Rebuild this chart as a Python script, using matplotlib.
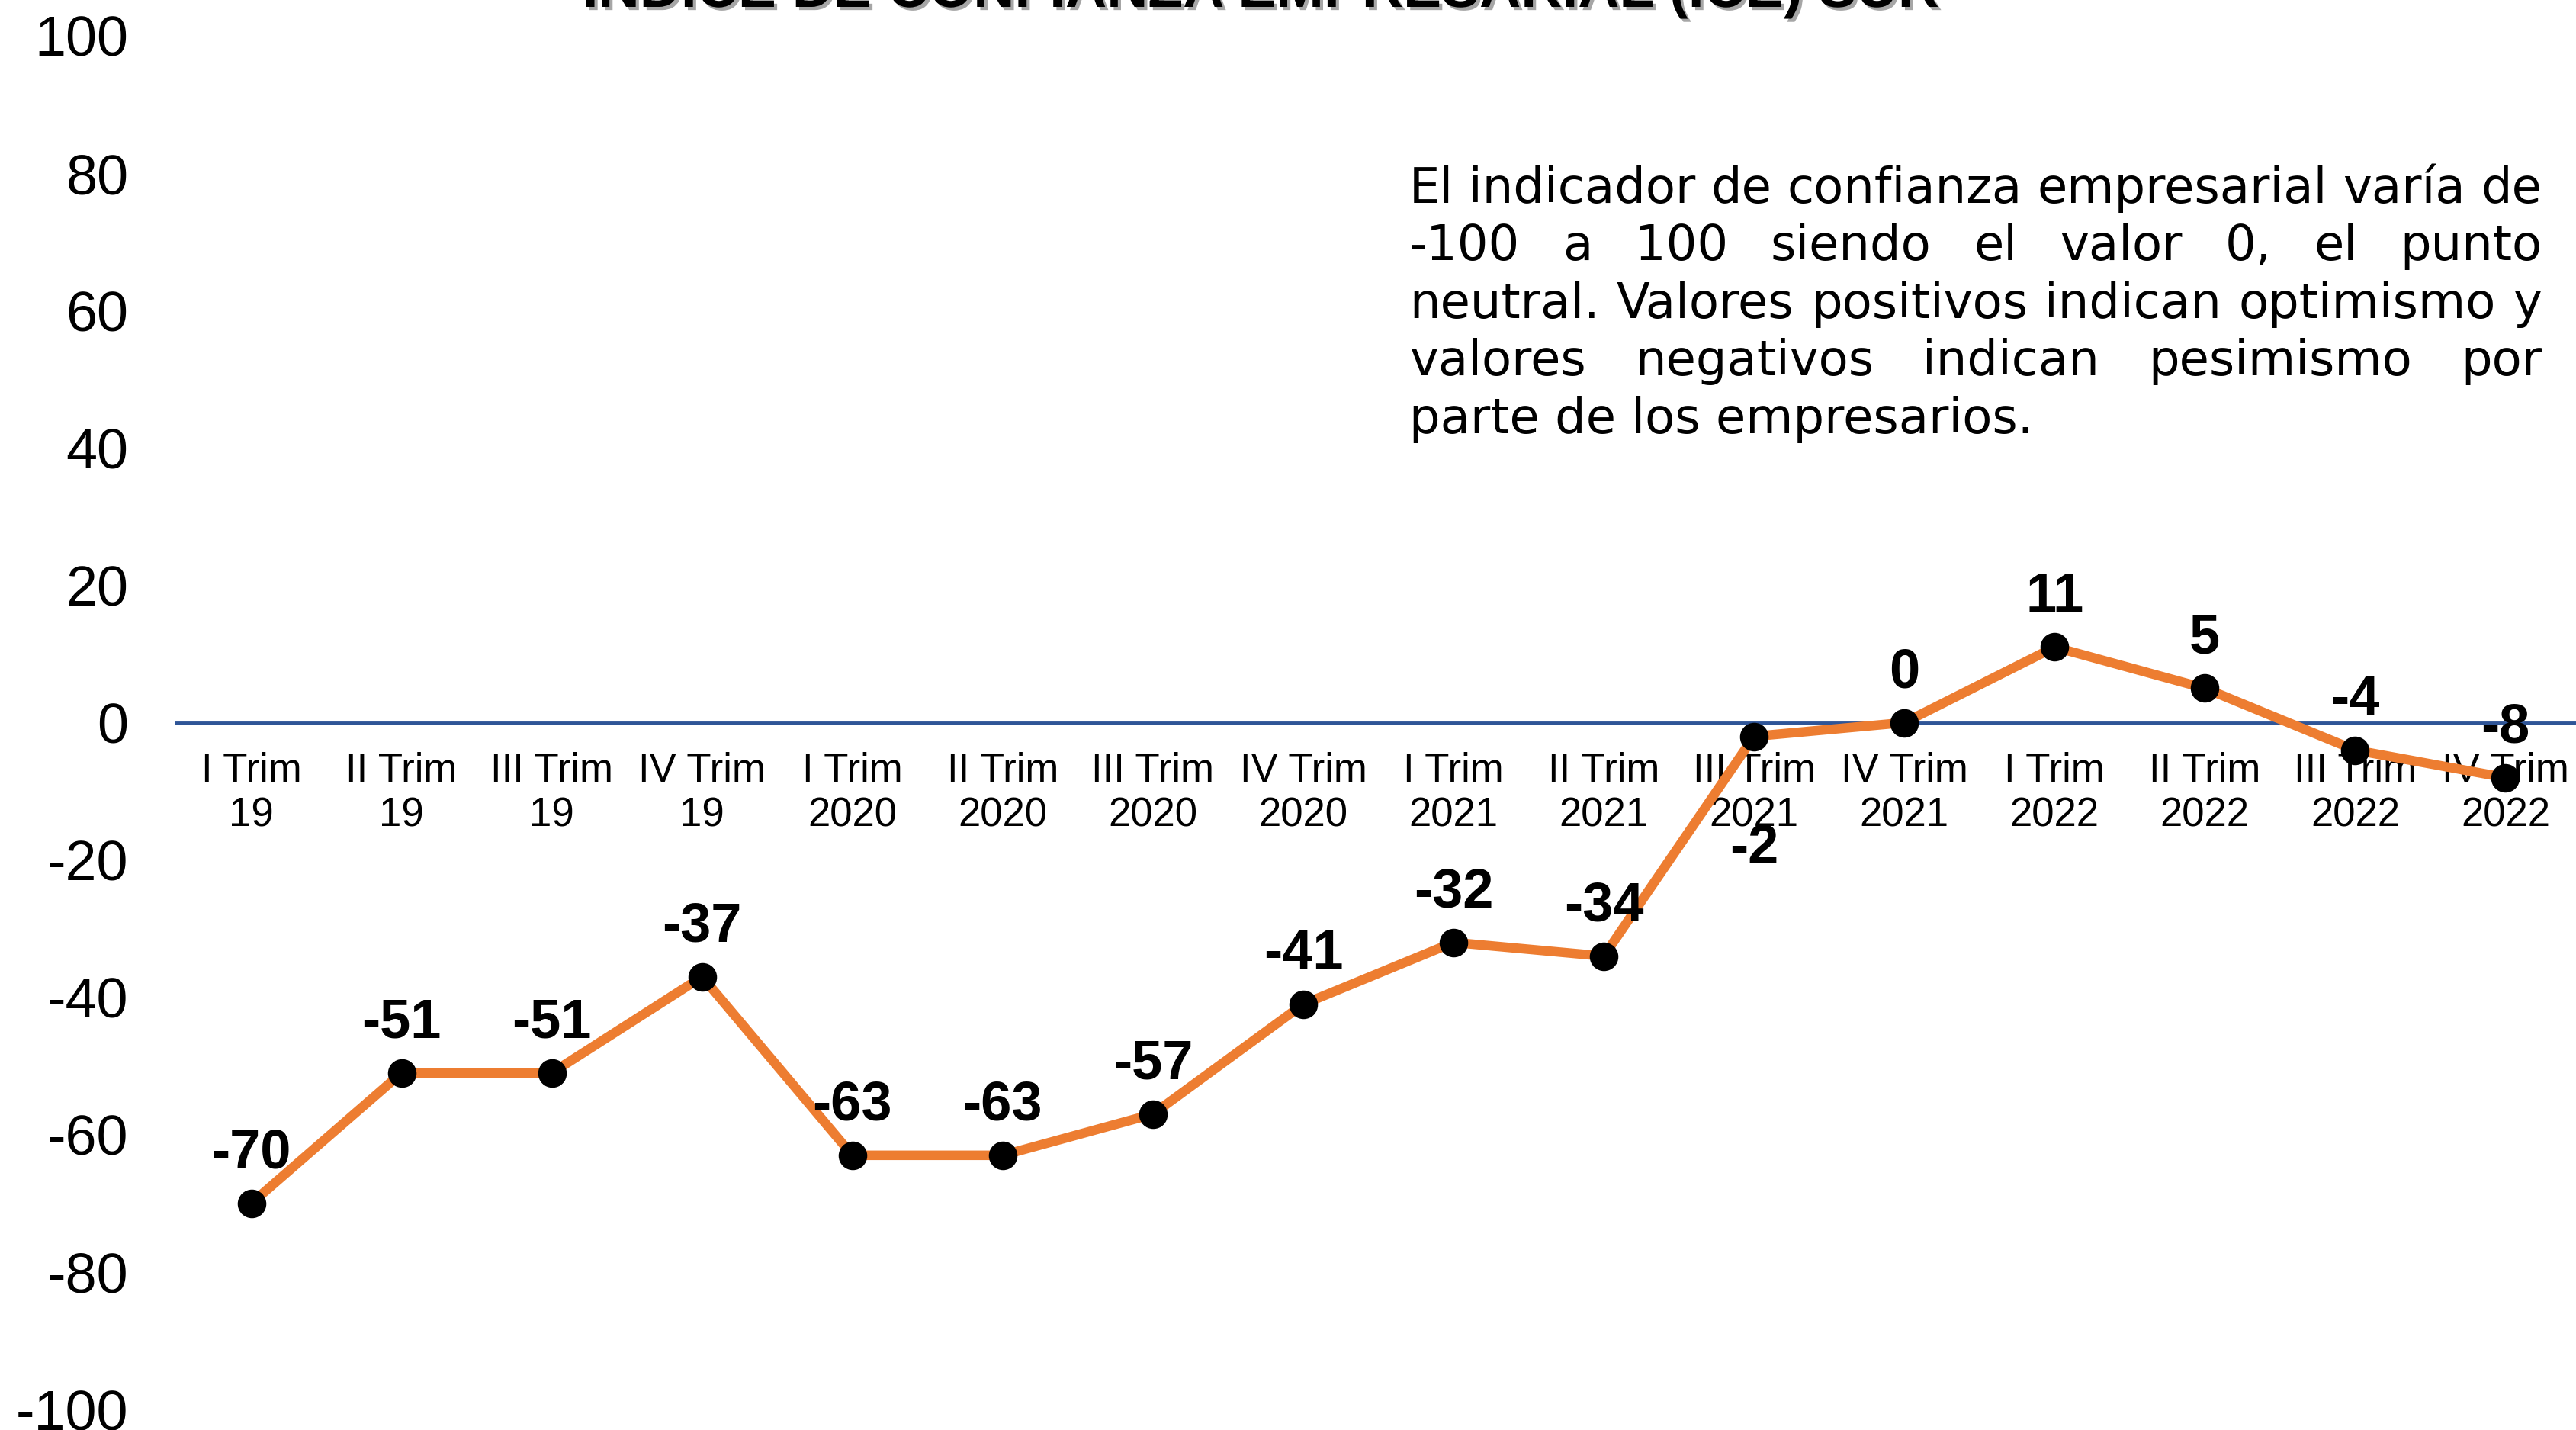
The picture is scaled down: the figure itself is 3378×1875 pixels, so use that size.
import matplotlib
matplotlib.use("Agg")
import matplotlib.pyplot as plt
import matplotlib.patheffects as pe

plt.rcParams['font.family'] = ['Liberation Sans', 'DejaVu Sans']
plt.rcParams['axes.unicode_minus'] = False

# Índice de confianza empresarial por trimestre
trimestres = ["I Trim\n19", "II Trim\n19", "III Trim\n19", "IV Trim\n19",
              "I Trim\n2020", "II Trim\n2020", "III Trim\n2020", "IV Trim\n2020",
              "I Trim\n2021", "II Trim\n2021", "III Trim\n2021", "IV Trim\n2021",
              "I Trim\n2022", "II Trim\n2022", "III Trim\n2022", "IV Trim\n2022"]
ice = [-70, -51, -51, -37, -63, -63, -57, -41, -32, -34, -2, 0, 11, 5, -4, -8]

titulo = "ÍNDICE DE CONFIANZA EMPRESARIAL (ICE) SUR"
nota = ["El indicador de confianza empresarial varía de",
        "-100 a 100 siendo el valor 0, el punto",
        "neutral. Valores positivos indican optimismo y",
        "valores negativos indican pesimismo por",
        "parte de los empresarios."]

W, H = 3378, 1875
fig = plt.figure(figsize=(W / 100, H / 100), dpi=100)
ax = fig.add_axes([231 / W, 27 / H, 3153 / W, 1801 / H])

x = list(range(len(ice)))
ax.plot(x, ice, color='#ED7D31', lw=9, marker='o', markersize=26,
        markerfacecolor='black', markeredgecolor='black', zorder=3)

for xi, v in zip(x, ice):
    dy = -106 if v == -2 else 47
    ax.annotate(str(v), (xi, v), xytext=(0, dy), textcoords='offset points',
                ha='center', va='center', fontsize=52, fontweight='bold', zorder=4)

ax.set_xlim(-0.5, len(ice) - 0.5)
ax.set_ylim(-100, 100)
ax.set_yticks(range(-100, 101, 20))
ax.set_xticks(x)
ax.set_xticklabels(trimestres, linespacing=1.3)

for s in ['top', 'right', 'left']:
    ax.spines[s].set_visible(False)
ax.spines['bottom'].set_position(('data', 0))
ax.spines['bottom'].set_color('#2F5597')
ax.spines['bottom'].set_linewidth(3.5)
ax.spines['bottom'].set_zorder(2)

ax.tick_params(axis='y', length=0, pad=45, labelsize=53)
ax.tick_params(axis='x', length=0, pad=28, labelsize=38)

# título (queda recortado en el borde superior)
fig.text(1653 / W, 1 - 9 / H, titulo, ha='center', va='baseline',
         fontsize=54, fontweight='bold',
         path_effects=[pe.withSimplePatchShadow(offset=(3, -3), alpha=0.35)])

# nota justificada
fig.canvas.draw()
renderer = fig.canvas.get_renderer()
x0, x1 = 1848, 3333
base0, paso = 266, 75.5
fam = ['DejaVu Sans']

prueba = fig.text(0, 0, nota[0], fontsize=40, family=fam)
tam = 40 * (x1 - x0) / prueba.get_window_extent(renderer).width
prueba.remove()

for i, linea in enumerate(nota):
    yb = 1 - (base0 + i * paso) / H
    palabras = linea.split()
    if i == len(nota) - 1:
        fig.text(x0 / W, yb, linea, fontsize=tam, family=fam, va='baseline')
        continue
    textos = [fig.text(0, yb, p, fontsize=tam, family=fam, va='baseline')
              for p in palabras]
    anchos = [t.get_window_extent(renderer).width for t in textos]
    hueco = (x1 - x0 - sum(anchos)) / (len(palabras) - 1)
    pos = x0
    for t, a in zip(textos, anchos):
        t.set_x(pos / W)
        pos += a + hueco

fig.savefig('out.png', dpi=100)
